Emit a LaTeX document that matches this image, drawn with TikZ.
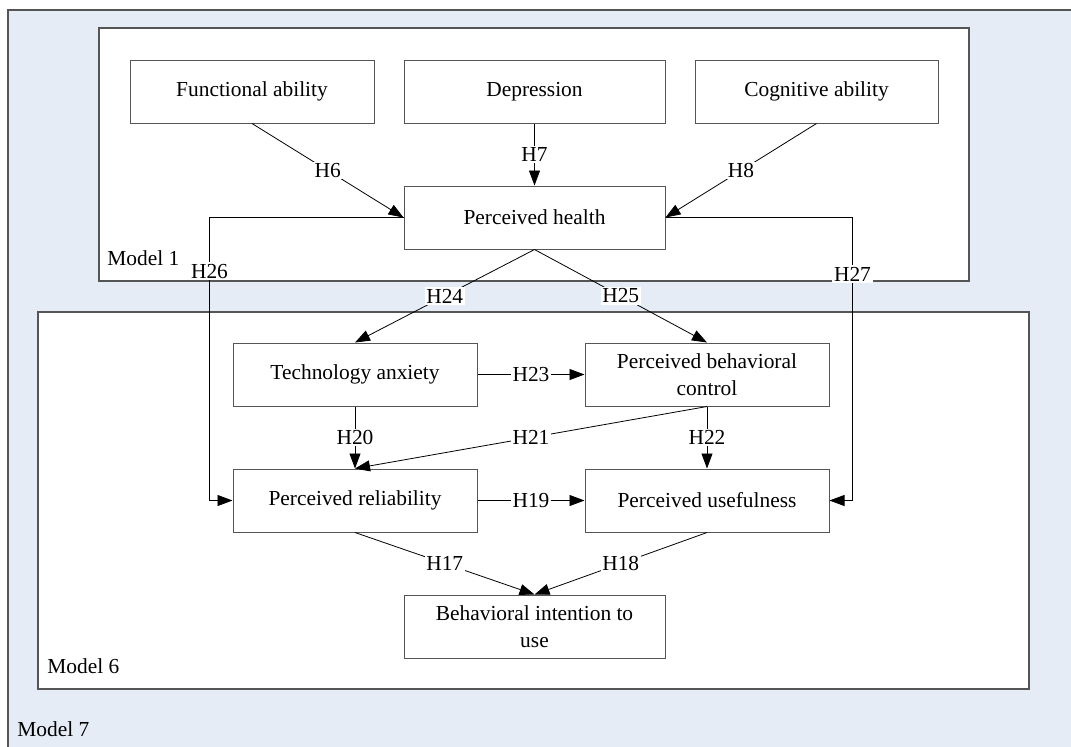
\documentclass[tikz,border=0pt]{standalone}
\usepackage{fontspec}
\setmainfont{Liberation Serif}
\usepackage{tikz}
\usetikzlibrary{positioning,arrows.meta}
\definecolor{paleblue}{HTML}{E6ECF6}
\definecolor{edgegray}{HTML}{555555}

\begin{document}
\begin{tikzpicture}[x=0.5pt, y=-0.5pt,
  every node/.style={font=\fontsize{10.7}{13.5}\selectfont},
  box/.style={draw=edgegray, fill=white, line width=0.5pt, minimum height=31.5pt,
              align=center, inner sep=2pt},
  frame/.style={draw=edgegray, line width=0.6pt},
  arr/.style={-{Triangle[length=7.5pt,width=5.5pt]}, line width=0.4pt},
  lbl/.style={fill=white, inner sep=0.8pt},
  mlbl/.style={anchor=base west, inner sep=0pt}]
\useasboundingbox (0,0) rectangle (1071,746);

% model frames
\fill[paleblue, draw=edgegray, line width=0.6pt] (8,10) rectangle (1090,760);
\draw[frame, fill=white] (99,28) rectangle (969,281);
\draw[frame, fill=white] (38,312) rectangle (1029,689);
\node[mlbl] (m1) at (107,265) {Model 1};
\node[mlbl] (m6) at (47,673) {Model 6};
\node[mlbl] (m7) at (17,736) {Model 7};

% Model 1
\node[box, minimum width=122pt] (fa) at (252,91.5) {Functional ability};
\node[box, minimum width=130.5pt] (dep) at (534.5,91.5) {Depression};
\node[box, minimum width=121.5pt] (cog) at (816.5,91.5) {Cognitive ability};
\node[box, minimum width=130.5pt] (ph) at (534.5,217.5) {Perceived health};

% Model 6
\node[box, minimum width=122pt] (ta) at (355,374.5) {Technology anxiety};
\node[box, minimum width=122pt] (pbc) at (707,374.5) {Perceived behavioral\\control};
\node[box, minimum width=122pt] (pr) at (355,500.5) {Perceived reliability};
\node[box, minimum width=122pt] (pu) at (707,500.5) {Perceived usefulness};
\node[box, minimum width=130.5pt] (bi) at (534.5,626.5) {Behavioral intention to\\use};

% hypotheses
\draw[arr] (fa.south) -- node[lbl]{H6} (ph.west);
\draw[arr] (dep.south) -- node[lbl]{H7} (ph.north);
\draw[arr] (cog.south) -- node[lbl]{H8} (ph.east);
\draw[arr] (ph.west) -- ++(-194,0) -- node[lbl, pos=0.19]{H26} ++(0,283) -- (pr.west);
\draw[arr] (ph.east) -- ++(187,0) -- node[lbl, pos=0.2]{H27} ++(0,283) -- (pu.east);
\draw[arr] (ph.south) -- node[lbl]{H24} (ta.north);
\draw[arr] (ph.south) -- node[lbl]{H25} (pbc.north);
\draw[arr] (ta.east) -- node[lbl]{H23} (pbc.west);
\draw[arr] (ta.south) -- node[lbl]{H20} (pr.north);
\draw[arr] (pbc.south) -- node[lbl]{H21} (pr.north);
\draw[arr] (pbc.south) -- node[lbl]{H22} (pu.north);
\draw[arr] (pr.east) -- node[lbl]{H19} (pu.west);
\draw[arr] (pr.south) -- node[lbl]{H17} (bi.north);
\draw[arr] (pu.south) -- node[lbl]{H18} (bi.north);
\end{tikzpicture}
\end{document}
